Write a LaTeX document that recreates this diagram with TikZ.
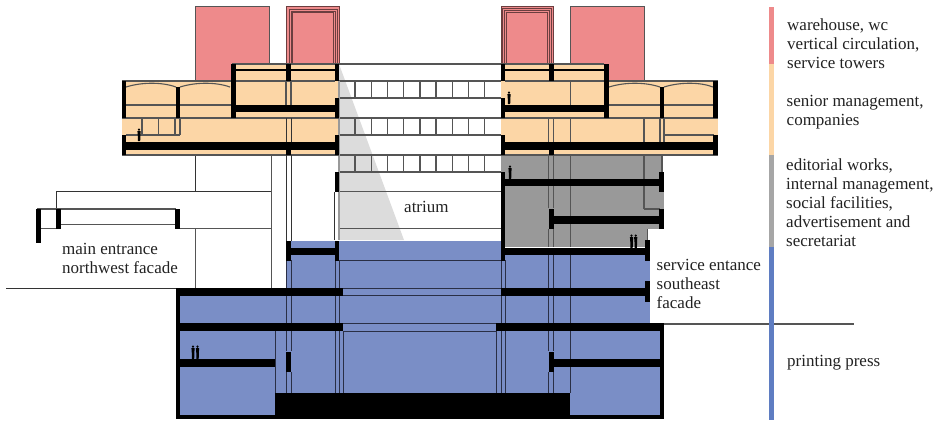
\documentclass[tikz,border=0pt]{standalone}
\usepackage{fontspec}
\setmainfont{Liberation Serif}
\definecolor{pinkc}{HTML}{EE8A8B}
\definecolor{peachc}{HTML}{FCD6A6}
\definecolor{grayc}{HTML}{999999}
\definecolor{bluec}{HTML}{7A8EC6}
\definecolor{barblue}{HTML}{5F7DC2}
\definecolor{bargray}{HTML}{A6A6A6}
\definecolor{shadec}{HTML}{DCDCDC}
\definecolor{linec}{HTML}{555555}
\definecolor{linek}{HTML}{2A2F45}
\definecolor{txt}{HTML}{222222}
\tikzset{
  ln/.style={draw=linec,line width=1.1pt},
  lk/.style={draw=linek,line width=1pt},
  lb/.style={draw=black!80,line width=1pt},
  lr/.style={draw=pinkc!45!black,line width=.9pt},
  blk/.style={fill=black},
  lab/.style={font=\fontsize{17}{19}\selectfont,text=txt,anchor=north west,inner sep=0pt,align=left},
  man/.style={fill=black,draw=none}
}
\newcommand{\person}[3]{% x, top y, bottom y
  \fill[man] (#1,#2+1.6) circle (1.2);
  \fill[man] (#1-1.6,#2+3) -- (#1+1.6,#2+3) -- (#1+1.4,#2+8) -- (#1+1.2,#3) -- (#1-1,#3) -- (#1-1.2,#2+8) -- cycle;
}
\begin{document}
\begin{tikzpicture}[x=1pt,y=-1pt]
\useasboundingbox (0,0) rectangle (934,421);
% colour fields
\fill[pinkc] (195.3,6.7) rectangle (269.3,81);
\fill[pinkc] (286,6) rectangle (339,64);
\fill[pinkc] (501,6) rectangle (553.5,64);
\fill[pinkc] (570.3,6.7) rectangle (644.3,81);
\draw[ln] (195.3,81) -- (195.3,6.7) -- (269.3,6.7) -- (269.3,64);
\draw[ln] (570.3,64) -- (570.3,6.7) -- (644.3,6.7) -- (644.3,81);
\foreach \a/\b/\c in {286/339/6,289/337.7/9.5,291/335/11,292.7/333/12.7}{\draw[lr] (\a,64) -- (\a,\c) -- (\b,\c) -- (\b,64);}
\foreach \a/\b/\c in {501/553.5/6,502.5/551.5/8,504/549.3/10,506.3/547.3/12.7}{\draw[lr] (\a,64) -- (\a,\c) -- (\b,\c) -- (\b,64);}
\fill[peachc] (122,81) rectangle (232,155);
\fill[peachc] (232,64) rectangle (339,155);
\fill[peachc] (501,64) rectangle (609,155);
\fill[peachc] (609,81) rectangle (718,155);
\fill[grayc] (501,155) rectangle (662,247);
\fill[grayc] (644,192) rectangle (664.3,209);
\fill[white] (648,229) rectangle (664.5,247);
\fill[shadec] (339,64) -- (404,240) -- (339,240) -- cycle;
\fill[bluec] (286,241) rectangle (501,288);
\fill[bluec] (501,247.7) rectangle (650,323.5);
\fill[bluec] (286,288) rectangle (501,323.5);
\fill[bluec] (176,288) rectangle (650,323.5);
\fill[bluec] (176,323.5) rectangle (664,419);
% atrium grid
\foreach \y in {64,81,98,118,135,155,172}{\draw[ln] (339,\y) -- (501,\y);}
\foreach \x in {355,371.3,387.7,403.7,420,436,452.3,468.3,484.7}{
  \foreach \a/\b in {81/98,118/135,155/172}{\draw[ln] (\x,\a) -- (\x,\b);}
}
\draw[ln] (339,191.7) -- (501,191.7);
\draw[ln] (339,228.3) -- (501,228.3);
\draw[draw=linec!60,line width=1.1pt] (339,81) -- (339,240);
\draw[lk] (339,260) -- (501,260);
\draw[lk] (343,288.3) -- (501,288.3);
\draw[lk] (343,295) -- (501,295);
\draw[lk] (343,323.3) -- (497,323.3);
\draw[lk] (343,331) -- (497,331);
% left wing
\draw[lb] (56.7,209) -- (56.7,191.7) -- (271.7,191.7);
\draw[ln] (37,209) -- (176,209);
\draw[ln] (60,224.3) -- (176,224.3);
\draw[ln] (37,228.3) -- (57,228.3);
\draw[ln] (180,228.3) -- (271.7,228.3);
\draw[lb] (195.5,155) -- (195.5,191.7);
\draw[ln] (195.5,228.3) -- (195.5,288);
\draw[ln] (271.7,155) -- (271.7,288);
\draw[lb] (6,288.5) -- (176,288.5);
\draw[draw=linec,line width=1.3pt] (650,324) -- (854,324);
\draw[lb] (334.3,192) -- (334.3,240);
% peach left lines
\draw[ln] (122,81) -- (232,81);
\draw[ln] (232,64) -- (339,64);
\draw[ln] (236,81) -- (335,81);
\draw[ln] (122,105) -- (232,105);
\draw[ln] (122,118) -- (339,118);
\draw[ln] (122,155) -- (339,155);
\draw[ln] (126,87) .. controls (142,82) and (162,82) .. (176,87);
\draw[ln] (180,87) .. controls (196,82) and (216,82) .. (230,87);
\draw[ln] (126,135) -- (180,135);
\foreach \x in {142,158.7,175,180}{\draw[ln] (\x,118) -- (\x,135);}
\draw[ln] (291,81) -- (291,105);
\draw[ln] (286,81) -- (286,105);
\foreach \x in {286,291}{\draw[lb] (\x,118) -- (\x,142);\draw[lb] (\x,155) -- (\x,241);}
% peach right lines
\draw[ln] (501,64) -- (604,64);
\draw[ln] (505,81) -- (604,81);
\draw[ln] (609,81) -- (718,81);
\draw[ln] (609,105) -- (714,105);
\draw[ln] (501,118) -- (718,118);
\draw[ln] (501,155) -- (718,155);
\draw[ln] (609,87) .. controls (625,82) and (645,82) .. (660,87);
\draw[ln] (664,87) .. controls (680,82) and (700,82) .. (713,87);
\draw[ln] (664,135) -- (714,135);
\foreach \x in {548.7,553.7,570.3,644,660,664}{\draw[ln] (\x,118) -- (\x,142);}
\draw[ln] (570.3,81) -- (570.3,105);
% grey lines
\draw[ln] (662,155) -- (662,172);
\foreach \x in {548.7,553.7}{\draw[ln] (\x,155) -- (\x,208);}
\draw[ln] (553.7,229) -- (553.7,247);
\draw[ln] (548.7,229) -- (548.7,247);
\draw[ln] (570.3,155) -- (570.3,216);
\draw[ln] (570.3,224) -- (570.3,247);
\draw[ln] (644,155) -- (644,209);
\draw[ln] (644,209) -- (660,209);
\draw[ln] (647.3,229) -- (647.3,241);
% blue lines
\foreach \x in {548.7,553.7}{\draw[lk] (\x,255) -- (\x,351);\draw[lk] (\x,372) -- (\x,393);}
\draw[lk] (570.3,255) -- (570.3,359);
\draw[lk] (570.3,367) -- (570.3,393);
\foreach \x in {501,505}{\draw[lk] (\x,260) -- (\x,288);\draw[lk] (\x,295) -- (\x,393);}
\draw[lk] (496,331) -- (496,393);
\foreach \x in {286,291}{\draw[lk] (\x,260) -- (\x,351);\draw[lk] (\x,372) -- (\x,393);}
\foreach \x in {335,339.3}{\draw[lk] (\x,260) -- (\x,288);\draw[lk] (\x,295) -- (\x,393);}
\draw[lk] (343.3,331) -- (343.3,393);
\draw[lk] (275,331) -- (275,415);
% black: top storeys left
\fill[blk] (121.7,81) rectangle (126,118);
\fill[blk] (176,87) rectangle (180.3,118);
\fill[blk] (231,64) rectangle (236,118);
\fill[blk] (286,64) rectangle (291,81);
\fill[blk] (334.5,64) rectangle (339,81);
\fill[blk] (334.5,98) rectangle (339,118);
\fill[blk] (334.5,135) rectangle (339,155);
\fill[blk] (121.7,135) rectangle (126,155);
\fill[blk] (236,68.5) rectangle (334.5,70.8);
\fill[blk] (236,105) rectangle (338,112.3);
\fill[blk] (122,142) rectangle (339,150);
\fill[blk] (286,142) rectangle (291,155);
% black: top storeys right
\fill[blk] (604.3,64) rectangle (609,118);
\fill[blk] (548.7,64) rectangle (553.7,81);
\fill[blk] (500.7,64) rectangle (505,81);
\fill[blk] (500.7,98) rectangle (505,118);
\fill[blk] (500.7,135) rectangle (505,155);
\fill[blk] (505,68.5) rectangle (604.3,70.8);
\fill[blk] (505,105) rectangle (604.3,112.3);
\fill[blk] (501,142) rectangle (718.3,150);
\fill[blk] (548.7,142) rectangle (553.7,155);
\fill[blk] (659.7,87) rectangle (664.3,118);
\fill[blk] (713.3,81) rectangle (718.3,118);
\fill[blk] (713.3,135) rectangle (718.3,155);
% black: grey storeys
\fill[blk] (500.7,172) rectangle (505,260.7);
\fill[blk] (505,179) rectangle (660,186);
\fill[blk] (659.3,171.7) rectangle (664.3,192.3);
\fill[blk] (548.7,208.7) rectangle (553.7,229);
\fill[blk] (553.7,216) rectangle (660,224);
\fill[blk] (659.3,209) rectangle (664.3,229);
\fill[blk] (505,247.7) rectangle (645,255.3);
\fill[blk] (645,240) rectangle (650,260.7);
% black: atrium and mezzanine left
\fill[blk] (334.5,171.7) rectangle (339,191.7);
\fill[blk] (286,240.7) rectangle (291,260.7);
\fill[blk] (334.5,240.7) rectangle (339,260.7);
\fill[blk] (291,247.7) rectangle (335,255.3);
% black: entrance
\fill[blk] (36.3,208.7) rectangle (41.3,243);
\fill[blk] (56,208.7) rectangle (61,228.7);
\fill[blk] (175.3,208.7) rectangle (180.3,228.7);
% black: basement
\fill[blk] (175.7,288.3) rectangle (180,419.3);
\fill[blk] (175.7,288.3) rectangle (343.3,295.7);
\fill[blk] (175.7,323.3) rectangle (343.3,331);
\fill[blk] (180,359) rectangle (275,367.3);
\fill[blk] (286,351.7) rectangle (291,372.3);
\fill[blk] (275,393.3) rectangle (570.3,419.3);
\fill[blk] (175.7,415) rectangle (664.3,419.3);
\fill[blk] (660,323.3) rectangle (664.3,419.3);
\fill[blk] (496,323.3) rectangle (664.3,331);
\fill[blk] (553.7,359) rectangle (660,367.3);
\fill[blk] (548.7,351.7) rectangle (553.7,372.3);
\fill[blk] (500.7,288) rectangle (645,295.7);
\fill[blk] (645,281) rectangle (650,301.7);
% people
\person{139}{128}{141}
\person{509}{91}{104}
\person{510}{165}{179}
\person{631.5}{234}{248}
\person{635.7}{234}{248}
\person{193}{345}{359}
\person{197.5}{345}{359}
% legend bar
\fill[pinkc] (769,7) rectangle (774,64);
\fill[peachc] (769,64) rectangle (774,155);
\fill[bargray] (769,155) rectangle (774,247);
\fill[barblue] (769,247) rectangle (774,420);
% labels
\node[lab] (l1) at (787,19) {warehouse, wc\\vertical circulation,\\service towers};
\node[lab] (l2) at (786.5,95) {senior management,\\companies};
\node[lab] (l3) at (786,158.6) {editorial works,\\internal management,\\social facilities,\\advertisement and\\secretariat};
\node[lab] (l4) at (787,355.5) {printing press};
\node[lab] (l5) at (656.5,258.6) {service entance\\southeast\\facade};
\node[lab] (l6) at (62,242.8) {main entrance\\northwest facade};
\node[lab] (l7) at (404,200.7) {atrium};
\end{tikzpicture}
\end{document}
